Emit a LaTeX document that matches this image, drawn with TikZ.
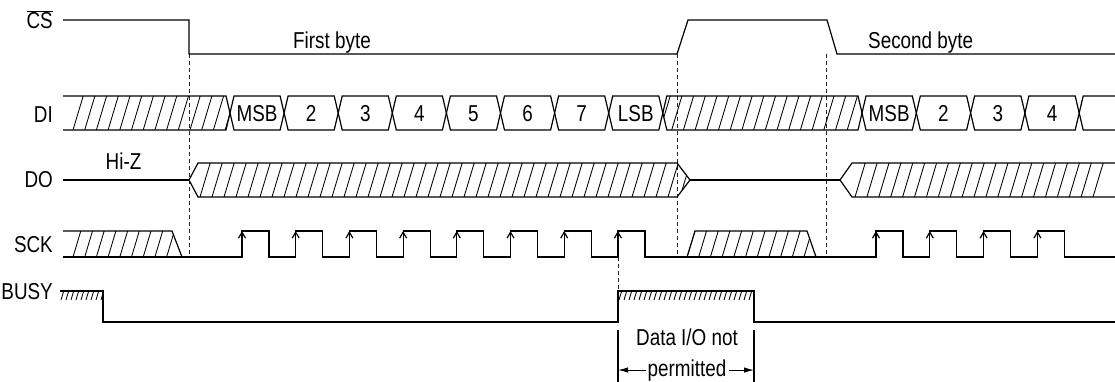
\documentclass[tikz,border=0pt]{standalone}
\usepackage{fontspec}
\setmainfont{Liberation Sans}[FakeStretch=0.82]
\usetikzlibrary{arrows.meta,calc}
\tikzset{
  sig/.style={line width=1.2pt, line join=miter},
  hatchline/.style={line width=0.85pt},
  guide/.style={line width=1pt, black!85, dash pattern=on 4pt off 3pt},
  clk/.style={line width=1.2pt, -{Straight Barb[length=6pt,width=7pt]}},
  dimarrow/.style={line width=1pt, -{Latex[length=10pt,width=5.5pt]}},
  lbl/.style={anchor=base east, inner sep=0pt},
  txt/.style={anchor=base, inner sep=0pt},
}
% hatching: clip path, first x, last index, pitch, bottom y, top y
\newcommand{\hatchrun}[6]{%
  \begin{scope}
    \clip #1;
    \foreach \k in {0,...,#3}
      \draw[hatchline] ({#2+\k*#4},#5) -- ({#2+\k*#4+0.3*(#5-#6)},#6);
  \end{scope}}

\begin{document}
\begin{tikzpicture}[x=1pt, y=-1pt, every node/.style={font=\fontsize{23}{27}\selectfont}]
  \useasboundingbox (0,0) rectangle (1115,382);
  % signal names
  \node[lbl] (cslbl) at (53,29) {$\overline{\mbox{CS}}$};
  \node[lbl] (dilbl) at (53,122.5) {DI};
  \node[lbl] (dolbl) at (53,187) {DO};
  \node[lbl] (scklbl) at (53,252.5) {SCK};
  \node[lbl] (busylbl) at (53,299) {BUSY};

  % guide lines
  \draw[guide] (189,54) -- (189,257);
  \draw[guide] (677,54) -- (677,257);
  \draw[guide] (826,54) -- (826,257);
  \draw[guide] (618,257) -- (618,291);

  % CS
  \draw[sig] (63,20) -- (189,20) -- (189,54) -- (677,54) -- (688,20) -- (827,20) -- (837,54) -- (1115,54);
  \node[txt, anchor=base west] (first) at (293,49) {First byte};
  \node[txt, anchor=base west] (second) at (868,48.5) {Second byte};

  % DI
  \hatchrun{(63,96) -- (226,96) -- (230,113) -- (226,130) -- (63,130) -- cycle}{73}{14}{11.7}{130}{96}
  \draw[sig] (63,96) -- (226,96) -- (230,113) -- (226,130) -- (63,130);
  \foreach \lab [count=\k from 0] in {MSB,2,3,4,5,6,7,LSB}{
    \pgfmathsetmacro{\xa}{230+54.1*\k}
    \pgfmathsetmacro{\xb}{\xa+54.1}
    \draw[sig] (\xa,113) -- ({\xa+4},96) -- ({\xb-4},96) -- (\xb,113) -- ({\xb-4},130) -- ({\xa+4},130) -- cycle;
    \node[txt] (dia\k) at ({(\xa+\xb)/2},122) {\lab};
  }
  \hatchrun{(662.8,113) -- (666.8,96) -- (858,96) -- (862,113) -- (858,130) -- (666.8,130) -- cycle}{660}{17}{11.7}{130}{96}
  \draw[sig] (662.8,113) -- (666.8,96) -- (858,96) -- (862,113) -- (858,130) -- (666.8,130) -- cycle;
  \foreach \lab [count=\k from 0] in {MSB,2,3,4}{
    \pgfmathsetmacro{\xa}{862+54.3*\k}
    \pgfmathsetmacro{\xb}{\xa+54.3}
    \draw[sig] (\xa,113) -- ({\xa+4},96) -- ({\xb-4},96) -- (\xb,113) -- ({\xb-4},130) -- ({\xa+4},130) -- cycle;
    \node[txt] (dib\k) at ({(\xa+\xb)/2},122) {\lab};
  }
  \draw[sig] (1115,96) -- (1083.2,96) -- (1079.2,113) -- (1083.2,130) -- (1115,130);

  % DO
  \draw[sig] (63,180) -- (189,180);
  \node[txt] (hiz) at (123.5,170) {Hi-Z};
  \hatchrun{(189,180) -- (198,163) -- (677,163) -- (690,180) -- (677,197) -- (198,197) -- cycle}{200}{41}{12}{197}{163}
  \draw[sig] (189,180) -- (198,163) -- (677,163) -- (690,180) -- (677,197) -- (198,197) -- cycle;
  \draw[sig] (690,180) -- (840,180);
  \hatchrun{(840,180) -- (852,163) -- (1115,163) -- (1115,197) -- (852,197) -- cycle}{855}{20}{11.9}{197}{163}
  \draw[sig] (1115,163) -- (852,163) -- (840,180) -- (852,197) -- (1115,197);

  % SCK
  \hatchrun{(63,231) -- (172,231) -- (182,257) -- (63,257) -- cycle}{73}{8}{11.7}{257}{231}
  \draw[sig] (63,231) -- (172,231) -- (182,257);
  \draw[sig] (63,257) -- (242,257)
    foreach \k in {0,...,7}{ -- ({242+53.7*\k},231) -- ({269+53.7*\k},231) -- ({269+53.7*\k},257) -- ({295.7+53.7*\k},257) }
    -- (876,257)
    foreach \k in {0,...,3}{ -- ({876+53.8*\k},231) -- ({903+53.8*\k},231) -- ({903+53.8*\k},257) -- ({929.8+53.8*\k},257) }
    -- (1115,257);
  \foreach \k in {0,...,7} \draw[clk] ({242+53.7*\k},250) -- ({242+53.7*\k},231);
  \foreach \k in {0,...,3} \draw[clk] ({876+53.8*\k},250) -- ({876+53.8*\k},231);
  \hatchrun{(687,257) -- (695,231) -- (807,231) -- (816,257) -- cycle}{687}{10}{11.7}{257}{231}
  \draw[sig] (687,257) -- (695,231) -- (807,231) -- (816,257);

  % BUSY
  \hatchrun{(60,291) rectangle (103,300)}{61}{8}{5}{300}{291}
  \hatchrun{(618,291) rectangle (754,300)}{619}{27}{5}{300}{291}
  \draw[sig] (60,291) -- (103,291) -- (103,322) -- (618,322) -- (618,291) -- (754,291) -- (754,322) -- (1115,322);

  % busy window
  \coordinate (lim1) at (618,330);
  \coordinate (lim2) at (754,330);
  \draw[sig] (lim1) -- (618,382);
  \draw[sig] (lim2) -- (754,382);
  \node[txt] (dio) at (687,345) {Data I/O not};
  \node[anchor=base, inner sep=2pt] (perm) at (687,376) {permitted};
  \draw[dimarrow] (perm.west) -- (lim1 |- perm.west);
  \draw[dimarrow] (perm.east) -- (lim2 |- perm.east);
\end{tikzpicture}
\end{document}
